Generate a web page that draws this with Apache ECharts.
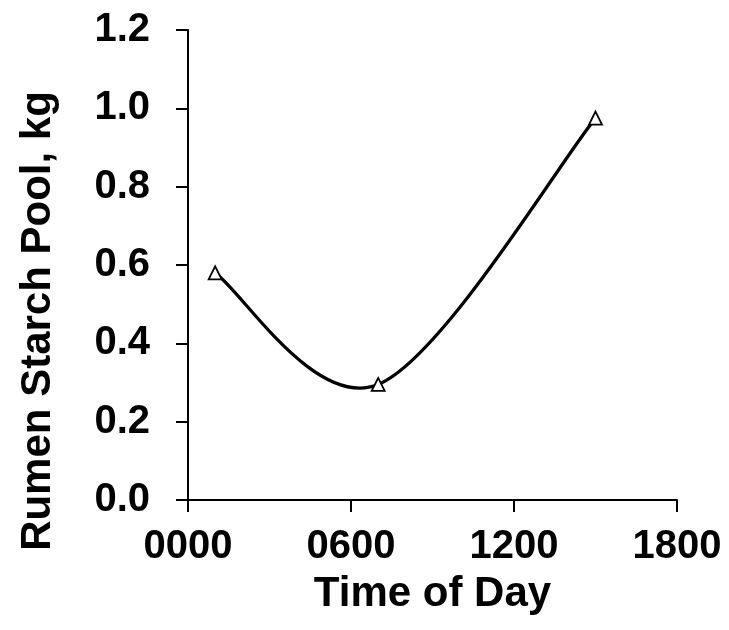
<!DOCTYPE html>
<html>
<head>
<meta charset="utf-8">
<script src="https://cdn.jsdelivr.net/npm/echarts@6/dist/echarts.min.js"></script>
<style>
  html, body { margin: 0; padding: 0; background: #fff; }
  #myChart { width: 729px; height: 630px; }
</style>
</head>
<body>
<div id="myChart"></div>
<script>
  // time of day (hhmm) and rumen starch pool (kg)
  var timeOfDay = [100, 700, 1500];
  var starchPool = [0.58, 0.295, 0.975];
  var xTicks = [0, 600, 1200, 1800];

  var points = timeOfDay.map(function (t, i) { return [t, starchPool[i]]; });
  var font = '"Liberation Sans", Arial, sans-serif';

  // smoothed segment between point i and i+1 (excel style bezier, 1/6 tension)
  function renderSegment(params, api) {
    var i = params.dataIndex;
    if (i >= points.length - 1) return null;
    var p = points.map(function (d) { return api.coord(d); });
    var a = p[Math.max(i - 1, 0)], b = p[i], c = p[i + 1], d = p[Math.min(i + 2, p.length - 1)];
    return {
      type: 'bezierCurve',
      shape: {
        x1: b[0], y1: b[1],
        cpx1: b[0] + (c[0] - a[0]) / 6, cpy1: b[1] + (c[1] - a[1]) / 6,
        cpx2: c[0] - (d[0] - b[0]) / 6, cpy2: c[1] - (d[1] - b[1]) / 6,
        x2: c[0], y2: c[1]
      },
      style: { stroke: '#000', lineWidth: 3.2, fill: null }
    };
  }

  var myChart = echarts.init(document.getElementById('myChart'));
  var option = {
    animation: false,
    grid: { left: 188, right: 52, top: 30, bottom: 130, outerBoundsMode: 'none' },
    xAxis: {
      type: 'value',
      min: xTicks[0],
      max: xTicks[xTicks.length - 1],
      interval: 600,
      name: 'Time of Day',
      nameLocation: 'middle',
      nameGap: 73,
      nameTextStyle: { color: '#000', fontFamily: font, fontWeight: 'bold', fontSize: 42 },
      axisLine: { lineStyle: { color: '#000', width: 2 } },
      axisTick: { inside: false, length: 12, lineStyle: { color: '#000', width: 2 } },
      splitLine: { show: false },
      axisLabel: {
        color: '#000', fontFamily: font, fontWeight: 'bold', fontSize: 40, margin: 27,
        formatter: function (v) { return ('000' + v).slice(-4); }
      }
    },
    yAxis: {
      type: 'value',
      min: 0,
      max: 1.2,
      interval: 0.2,
      name: 'Rumen Starch Pool, kg',
      nameLocation: 'middle',
      nameGap: 129,
      nameTextStyle: {
        color: '#000', fontFamily: font, fontWeight: 'bold', fontSize: 42,
        padding: [0, 112, 0, 0]
      },
      axisLine: { show: true, lineStyle: { color: '#000', width: 2 } },
      axisTick: { show: true, inside: false, length: 12, lineStyle: { color: '#000', width: 2 } },
      splitLine: { show: false },
      axisLabel: {
        color: '#000', fontFamily: font, fontWeight: 'bold', fontSize: 40, margin: 38,
        formatter: function (v) { return v.toFixed(1); }
      }
    },
    series: [{
      type: 'custom',
      data: points,
      renderItem: renderSegment,
      z: 2
    }, {
      type: 'scatter',
      data: points,
      symbol: 'triangle',
      symbolSize: 13,
      z: 3,
      itemStyle: { color: '#fff', borderColor: '#000', borderWidth: 1.8, opacity: 1 }
    }]
  };
  myChart.setOption(option);
</script>
</body>
</html>
